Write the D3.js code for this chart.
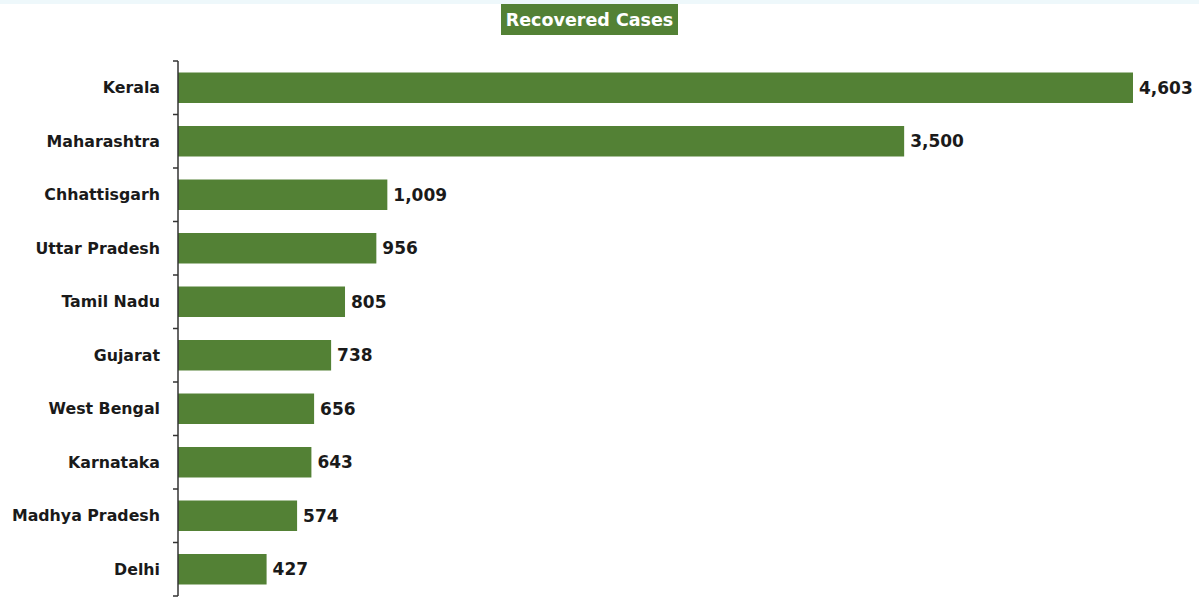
<!DOCTYPE html>
<html>
<head>
<meta charset="utf-8">
<script src="https://cdn.jsdelivr.net/npm/d3@7"></script>
<style>
  body { margin: 0; background: #fff; }
  svg { display: block; font-family: "DejaVu Sans", sans-serif; }
</style>
</head>
<body>
<div id="chart"></div>
<script>
// chart data
const states = ["Kerala", "Maharashtra", "Chhattisgarh", "Uttar Pradesh", "Tamil Nadu",
                "Gujarat", "West Bengal", "Karnataka", "Madhya Pradesh", "Delhi"];
const recovered = [4603, 3500, 1009, 956, 805, 738, 656, 643, 574, 427];
const title = "Recovered Cases";

const width = 1199, height = 597;
const margin = {top: 61, right: 0, bottom: 1, left: 178};
const barColor = "#538135";

const svg = d3.select("#chart")
  .append("svg")
  .attr("width", width)
  .attr("height", height);

// faint tint along the top edge
svg.append("rect")
  .attr("x", 0).attr("y", 0)
  .attr("width", width).attr("height", 4)
  .attr("fill", "#eef8fb");

const x = d3.scaleLinear()
  .domain([0, 4603])
  .range([margin.left, 1133]);

const y = d3.scaleBand()
  .domain(states)
  .range([margin.top, height - margin.bottom])
  .paddingInner(0.43)
  .paddingOuter(0.215);

// title box
const tg = svg.append("g");
tg.append("rect")
  .attr("x", 501).attr("y", 4)
  .attr("width", 177).attr("height", 31)
  .attr("fill", barColor);
tg.append("text")
  .attr("x", 589.5).attr("y", 26)
  .attr("text-anchor", "middle")
  .attr("fill", "#fff")
  .style("font-size", "17.5px")
  .style("font-weight", "bold")
  .text(title);

// bars
svg.selectAll(".bar")
  .data(states)
  .join("rect")
  .attr("class", "bar")
  .attr("x", x(0))
  .attr("y", d => y(d))
  .attr("width", (d, i) => x(recovered[i]) - x(0))
  .attr("height", y.bandwidth())
  .attr("fill", barColor);

// value labels
svg.selectAll(".val")
  .data(states)
  .join("text")
  .attr("class", "val")
  .attr("x", (d, i) => x(recovered[i]) + 6)
  .attr("y", d => y(d) + y.bandwidth() / 2)
  .attr("dy", "0.36em")
  .attr("fill", "#1a1a1a")
  .style("font-size", "17px")
  .style("font-weight", "bold")
  .text((d, i) => d3.format(",")(recovered[i]));

// y axis with ticks between categories
const axis = svg.append("g")
  .attr("transform", "translate(" + margin.left + ",0)");
axis.append("line")
  .attr("x1", 0).attr("x2", 0)
  .attr("y1", margin.top).attr("y2", height - margin.bottom)
  .attr("stroke", "#333").attr("stroke-width", 1.5);

const step = y.step();
const tickYs = d3.range(states.length + 1).map(i => margin.top + i * step);
axis.selectAll(".tick")
  .data(tickYs)
  .join("line")
  .attr("x1", -5).attr("x2", 0)
  .attr("y1", d => d).attr("y2", d => d)
  .attr("stroke", "#333").attr("stroke-width", 1.5);

axis.selectAll(".lab")
  .data(states)
  .join("text")
  .attr("class", "lab")
  .attr("x", -18)
  .attr("y", d => y(d) + y.bandwidth() / 2)
  .attr("dy", "0.36em")
  .attr("text-anchor", "end")
  .attr("fill", "#1a1a1a")
  .style("font-size", "15.8px")
  .style("font-weight", "bold")
  .text(d => d);
</script>
</body>
</html>
